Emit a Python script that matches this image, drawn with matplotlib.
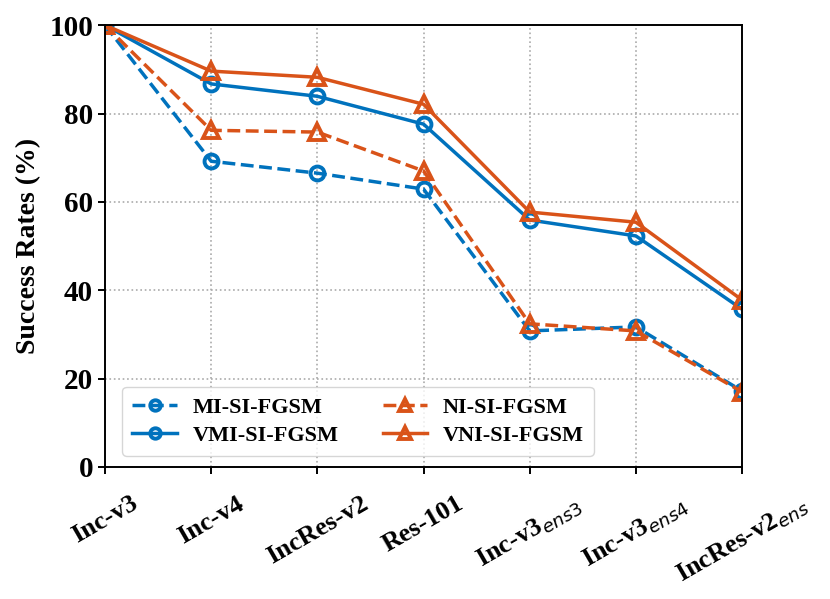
import matplotlib
matplotlib.use('Agg')
import numpy as np
import matplotlib.pyplot as plt

plt.rcParams['font.family'] = ['Liberation Serif', 'DejaVu Serif']
plt.rcParams['font.weight'] = 'bold'
plt.rcParams['mathtext.fontset'] = 'custom'
plt.rcParams['mathtext.it'] = 'DejaVu Sans:italic:normal'
plt.rcParams['mathtext.rm'] = 'DejaVu Sans:normal'

models = ['Inc-v3', 'Inc-v4', 'IncRes-v2', 'Res-101',
          'Inc-v3$_{ens3}$', 'Inc-v3$_{ens4}$', 'IncRes-v2$_{ens}$']

mi_si = [100, 69.2, 66.5, 62.9, 30.8, 31.7, 17.2]
vmi_si = [100, 86.7, 83.9, 77.6, 55.9, 52.3, 35.7]
ni_si = [100, 76.2, 75.8, 67.0, 32.4, 30.8, 17.0]
vni_si = [100, 89.6, 88.2, 82.1, 57.7, 55.4, 37.8]

blue = '#0072BD'
orange = '#D95319'

fig = plt.figure(figsize=(8.3, 5.99), dpi=100)
ax = fig.add_axes([0.1265, 0.2204, 0.7675, 0.7376])

x = np.arange(len(models))
kw = dict(lw=2.5, mew=2.8, mfc='none')
ax.plot(x, mi_si, '--o', color=blue, ms=10, label='MI-SI-FGSM', **kw)
ax.plot(x, vmi_si, '-o', color=blue, ms=10, label='VMI-SI-FGSM', **kw)
ax.plot(x, ni_si, '--^', color=orange, ms=11, label='NI-SI-FGSM', **kw)
ax.plot(x, vni_si, '-^', color=orange, ms=11, label='VNI-SI-FGSM', **kw)

ax.set_xlim(0, 6)
ax.set_ylim(0, 100)
ax.set_yticks([0, 20, 40, 60, 80, 100])
ax.set_xticks(x)
ax.set_xticklabels(models, rotation=30, fontsize=19, fontweight='bold')
for t in ax.get_yticklabels():
    t.set_fontsize(21)
    t.set_fontweight('bold')
ax.set_ylabel('Success Rates (%)', fontsize=20, fontweight='bold', labelpad=6)
ax.grid(True, linestyle=':', color='#aaaaaa', lw=1.2)
for s in ax.spines.values():
    s.set_linewidth(1.4)
ax.tick_params(width=1.4, length=5)
ax.tick_params(axis='x', pad=13)

ax.legend(loc='lower left', ncol=2, prop={'weight': 'bold', 'size': 16},
          columnspacing=2.0, handlelength=2.0, handletextpad=0.7,
          borderpad=0.45, labelspacing=0.35, markerscale=0.75,
          bbox_to_anchor=(0.01, 0.0), fancybox=True, framealpha=0.8)

fig.savefig('out.png', dpi=100)
